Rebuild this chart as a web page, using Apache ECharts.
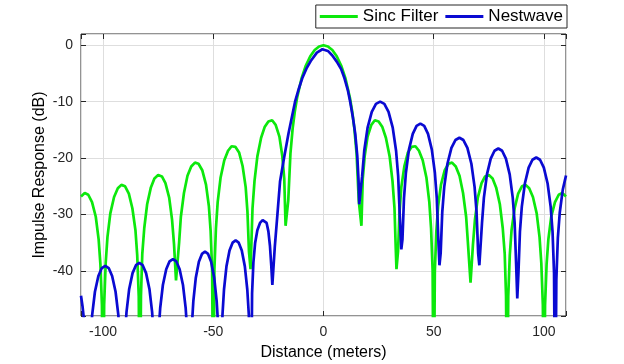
<!DOCTYPE html>
<html>
<head>
<meta charset="utf-8">
<script src="https://cdn.jsdelivr.net/npm/echarts@6/dist/echarts.min.js"></script>
<style>html,body{margin:0;padding:0;background:#fff;}#c{width:624px;height:364px;}</style>
</head>
<body>
<div id="c"></div>
<script>
var seriesNames = ['Sinc Filter', 'Nestwave'];
var xAxisTitle = 'Distance (meters)';
var yAxisTitle = 'Impulse Response (dB)';
var xRange = [-110, 110];
var yRange = [-48, 2];

var sincFilter = [
  [-110,-26.8],[-108.3,-26.2],[-106.7,-26.5],[-105.0,-27.8],[-103.3,-30.4],[-102.0,-34.4],[-101.2,-38.8],[-100.5,-46.1],[-100,-70],
  [-99.5,-46.0],[-98.8,-38.6],[-98.0,-34.0],[-96.7,-29.8],[-95.0,-26.9],[-93.3,-25.35],[-91.7,-24.75],[-90.0,-25.0],[-88.3,-26.3],[-86.7,-28.9],[-85.3,-32.8],[-84.5,-37.2],[-83.8,-44.5],[-83.3,-70],
  [-82.8,-44.4],[-82.2,-37.0],[-81.3,-32.4],[-80.0,-28.2],[-78.3,-25.2],[-76.7,-23.6],[-75.0,-23.0],[-73.3,-23.25],[-71.7,-24.45],[-70.0,-27.0],[-68.7,-30.9],[-67.8,-35.3],[-66.9,-41.7],
  [-65.5,-35.0],[-64.7,-30.4],[-63.3,-26.2],[-61.7,-23.15],[-60.0,-21.5],[-58.3,-20.8],[-56.7,-21.0],[-55.0,-22.15],[-53.3,-24.7],[-52.0,-28.5],[-51.2,-32.9],[-50.5,-40.1],[-50,-70],
  [-49.5,-39.9],[-48.8,-32.5],[-48.0,-27.8],[-46.7,-23.5],[-45.0,-20.4],[-43.3,-18.7],[-41.7,-17.9],[-40.0,-18.0],[-38.3,-19.0],[-36.7,-21.4],[-35.3,-25.15],[-34.5,-29.5],[-33.8,-36.6],[-33.1,-39.7],
  [-32.8,-36.3],[-32.2,-28.9],[-31.3,-24.1],[-30.0,-19.7],[-28.3,-16.4],[-26.7,-14.5],[-25.0,-13.5],[-23.3,-13.3],[-21.7,-14.1],[-20.0,-16.2],[-18.7,-19.6],[-17.8,-23.7],[-17.2,-32],
  [-16,-27.6],[-15,-19.2],[-14,-14.77],[-13,-11.7],[-12,-9.35],[-10,-5.94],[-8,-3.59],[-6,-1.94],[-4,-0.84],[-2,-0.21],[0,0],
  [2,-0.21],[4,-0.84],[6,-1.94],[8,-3.59],[10,-5.94],[12,-9.35],[13,-11.7],[14,-14.77],[15,-19.2],[16,-27.6],[17.2,-32],
  [17.8,-23.7],[18.7,-19.6],[20.0,-16.2],[21.7,-14.1],[23.3,-13.3],[25.0,-13.5],[26.7,-14.5],[28.3,-16.4],[30.0,-19.7],[31.3,-24.1],[32.2,-28.9],[32.8,-36.3],[33.1,-39.7],
  [33.8,-36.6],[34.5,-29.5],[35.3,-25.15],[36.7,-21.4],[38.3,-19.0],[40.0,-18.0],[41.7,-17.9],[43.3,-18.7],[45.0,-20.4],[46.7,-23.5],[48.0,-27.8],[48.8,-32.5],[49.5,-39.9],[50,-70],
  [50.5,-40.1],[51.2,-32.9],[52.0,-28.5],[53.3,-24.7],[55.0,-22.15],[56.7,-21.0],[58.3,-20.8],[60.0,-21.5],[61.7,-23.15],[63.3,-26.2],[64.7,-30.4],[65.5,-35.0],[66.7,-42.1],
  [67.8,-35.3],[68.7,-30.9],[70.0,-27.0],[71.7,-24.45],[73.3,-23.25],[75.0,-23.0],[76.7,-23.6],[78.3,-25.2],[80.0,-28.2],[81.3,-32.4],[82.2,-37.0],[82.8,-44.4],[83.3,-70],
  [83.8,-44.5],[84.5,-37.2],[85.3,-32.8],[86.7,-28.9],[88.3,-26.3],[90.0,-25.0],[91.7,-24.75],[93.3,-25.35],[95.0,-26.9],[96.7,-29.8],[98.0,-34.0],[98.8,-38.6],[99.5,-46.0],[100,-70],
  [100.5,-46.1],[101.2,-38.8],[102.0,-34.4],[103.3,-30.4],[105.0,-27.8],[106.7,-26.5],[108.3,-26.2],[110,-26.8]
];

var nestwave = [
  [-110,-44.4],[-109.3,-46.3],[-108.65,-48.7],[-107.9,-53.2],[-107.3,-60.5],[-106.8,-70],
  [-106.33,-59.6],[-105.71,-52.3],[-104.93,-47.8],[-103.68,-43.7],[-102.12,-40.9],[-100.56,-39.5],[-99.0,-39.1],[-97.44,-39.5],[-95.88,-40.9],[-94.32,-43.7],[-93.07,-47.8],[-92.29,-52.3],[-91.67,-59.6],[-91.2,-70],
  [-90.74,-59.1],[-90.13,-51.8],[-89.36,-47.3],[-88.14,-43.2],[-86.61,-40.4],[-85.08,-39.0],[-83.55,-38.6],[-82.02,-39.0],[-80.49,-40.4],[-78.96,-43.2],[-77.74,-47.3],[-76.97,-51.8],[-76.36,-59.1],[-75.9,-70],
  [-75.44,-58.4],[-74.84,-51.1],[-74.08,-46.6],[-72.86,-42.5],[-71.34,-39.7],[-69.82,-38.3],[-68.3,-37.9],[-66.78,-38.3],[-65.26,-39.7],[-63.74,-42.5],[-62.52,-46.6],[-61.76,-51.1],[-61.16,-58.4],[-60.7,-70],
  [-60.28,-57.1],[-59.73,-49.8],[-59.03,-45.3],[-57.92,-41.2],[-56.53,-38.4],[-55.14,-37.0],[-53.75,-36.6],[-52.36,-37.0],[-50.97,-38.4],[-49.58,-41.2],[-48.47,-45.3],[-47.77,-49.8],[-47.22,-57.1],[-46.8,-70],
  [-46.38,-55.1],[-45.83,-47.8],[-45.13,-43.3],[-44.02,-39.2],[-42.63,-36.4],[-41.24,-35.0],[-39.85,-34.6],[-38.46,-35.0],[-37.07,-36.4],[-35.68,-39.2],[-34.57,-43.3],[-33.87,-47.8],[-33.32,-55.1],[-32.9,-70],
  [-32.4,-44],[-31.8,-38.5],[-31.0,-35],[-30.0,-32.8],[-28.8,-31.5],[-27.6,-31.0],[-26.7,-30.9],[-25.8,-31.5],[-25.0,-33],[-24.3,-35.5],[-23.7,-39],[-23.2,-42.5],
  [-22.1,-35.8],[-20.9,-30],[-19.7,-24.1],[-17.9,-20],[-15.9,-15.7],[-12.9,-10],[-11.2,-7.7],[-9.5,-5.7],[-7.7,-4.1],[-5.8,-2.8],[-3,-1.3],[-0.5,-0.7],
  [2,-1.0],[4,-1.8],[6,-2.9],[8,-4.2],[9.4,-5.7],[11,-7.9],[12.1,-10],[13.3,-12.7],[14.4,-15.7],[15.3,-19.5],[15.9,-24],[16.2,-28.2],
  [17.53,-23.2],[18.48,-18.7],[20.0,-14.6],[21.9,-11.8],[23.8,-10.4],[25.7,-10.0],[27.6,-10.4],[29.5,-11.8],[31.4,-14.6],[32.92,-18.7],[33.87,-23.2],[34.63,-30.5],[35.3,-36.2],
  [35.82,-34.4],[36.51,-27.1],[37.38,-22.6],[38.76,-18.5],[40.49,-15.7],[42.22,-14.3],[43.95,-13.9],[45.68,-14.3],[47.41,-15.7],[49.14,-18.5],[50.52,-22.6],[51.39,-27.1],[52.08,-34.4],[52.6,-39.0],
  [53.14,-36.9],[53.87,-29.6],[54.77,-25.1],[56.22,-21.0],[58.03,-18.2],[59.84,-16.8],[61.65,-16.4],[63.46,-16.8],[65.27,-18.2],[67.08,-21.0],[68.53,-25.1],[69.43,-29.6],[70.16,-36.9],[70.7,-39.0],
  [71.22,-38.8],[71.9,-31.5],[72.76,-27.0],[74.14,-22.9],[75.86,-20.1],[77.58,-18.7],[79.3,-18.3],[81.02,-18.7],[82.74,-20.1],[84.46,-22.9],[85.84,-27.0],[86.7,-31.5],[87.38,-38.8],[87.9,-44.9],
  [88.42,-40.4],[89.1,-33.1],[89.96,-28.6],[91.34,-24.5],[93.06,-21.7],[94.78,-20.3],[96.5,-19.9],[98.22,-20.3],[99.94,-21.7],[101.66,-24.5],[103.04,-28.6],[103.9,-33.1],[104.58,-40.4],[105.1,-70],
  [105.62,-41.5],[106.3,-34.2],[107.16,-29.7],[108.54,-25.6],[110,-23.1]
];

var FONT = 'Liberation Sans, Arial, Helvetica, sans-serif';
var AX = '#262626';
var GREEN = '#0ce80c';
var BLUE = '#0a0ad2';
var chart = echarts.init(document.getElementById('c'), null, {renderer: 'canvas'});

function baseX(pos, labels) {
  return {
    type: 'value', position: pos, min: xRange[0], max: xRange[1], splitNumber: 5,
    axisLine: {show: false, onZero: false},
    axisTick: {show: true, inside: true, length: 5, lineStyle: {color: AX, width: 1}},
    axisLabel: {show: labels, margin: 9, fontSize: 14, color: AX, fontFamily: FONT,
      formatter: function (v) { return (v % 50 === 0) ? String(v) : ''; }},
    splitLine: {show: labels, lineStyle: {color: '#dedede', width: 1}}
  };
}
function baseY(pos, labels) {
  return {
    type: 'value', position: pos, min: yRange[0], max: yRange[1], splitNumber: 5,
    axisLine: {show: false, onZero: false},
    axisTick: {show: true, inside: true, length: 5, lineStyle: {color: AX, width: 1}},
    axisLabel: {show: labels, margin: 8, fontSize: 14, color: AX, fontFamily: FONT,
      formatter: function (v) { return (v % 10 === 0) ? String(v) : ''; }},
    splitLine: {show: labels, lineStyle: {color: '#dedede', width: 1}}
  };
}

var xa0 = baseX('bottom', true);
xa0.name = xAxisTitle; xa0.nameLocation = 'middle'; xa0.nameGap = 29; xa0.nameMoveOverlap = false;
xa0.nameTextStyle = {fontSize: 16, color: '#000', fontFamily: FONT};
var ya0 = baseY('left', true);
ya0.name = yAxisTitle; ya0.nameLocation = 'middle'; ya0.nameGap = 33; ya0.nameMoveOverlap = false;
ya0.nameTextStyle = {fontSize: 16, color: '#000', fontFamily: FONT};

chart.setOption({
  animation: false,
  backgroundColor: '#fff',
  grid: {left: 81, right: 58, top: 34, bottom: 48, show: true, borderColor: AX, borderWidth: 1,
         containLabel: false, outerBoundsMode: 'none'},
  legend: {
    right: 57, top: 5, orient: 'horizontal',
    data: [{name: seriesNames[0], icon: 'rect'}, {name: seriesNames[1], icon: 'rect'}],
    itemWidth: 38, itemHeight: 3, itemGap: 7,
    padding: [3, 4, 3, 4],
    borderColor: AX, borderWidth: 1, backgroundColor: '#fff',
    textStyle: {fontSize: 17, color: '#000', fontFamily: FONT}
  },
  xAxis: [xa0, baseX('top', false)],
  yAxis: [ya0, baseY('right', false)],
  series: [
    {name: seriesNames[0], type: 'line', data: sincFilter, symbol: 'none', showSymbol: false,
     lineStyle: {color: GREEN, width: 2.7}, itemStyle: {color: GREEN}, clip: true, z: 2},
    {name: seriesNames[1], type: 'line', data: nestwave, symbol: 'none', showSymbol: false,
     lineStyle: {color: BLUE, width: 2.7}, itemStyle: {color: BLUE}, clip: true, z: 3}
  ]
});
</script>
</body>
</html>
